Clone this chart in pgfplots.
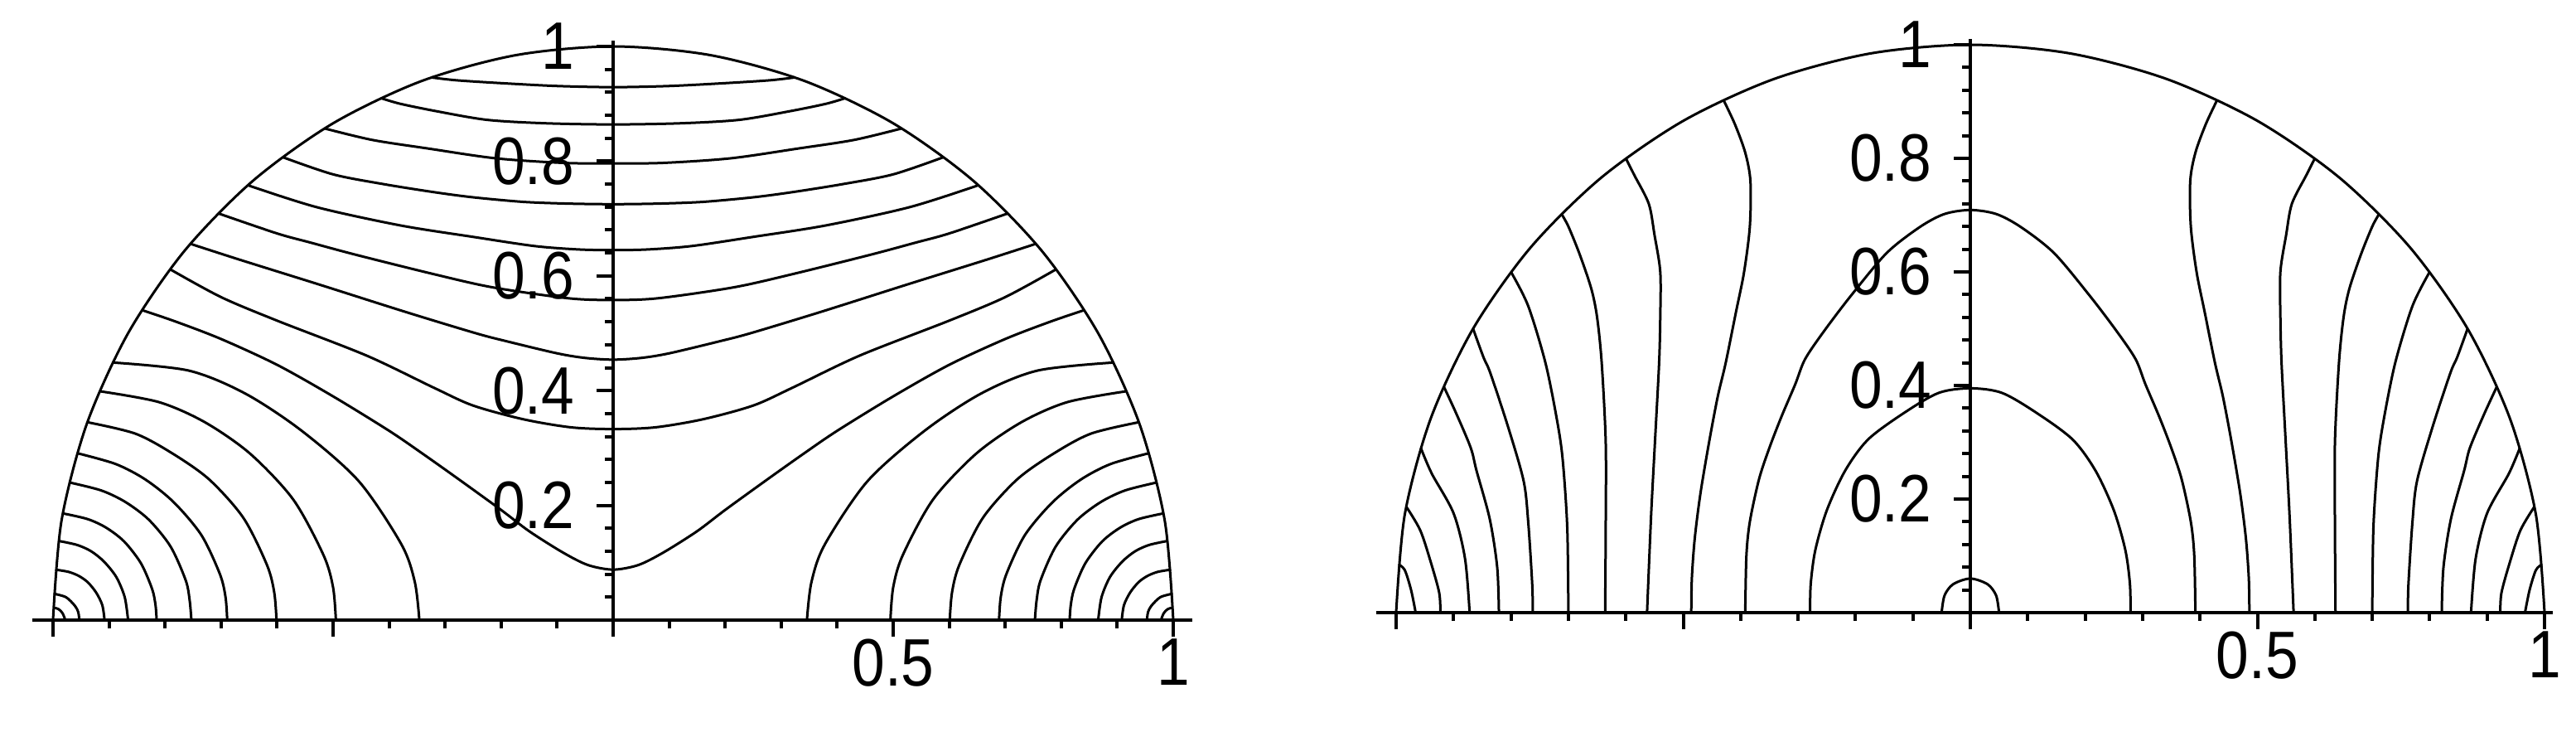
\documentclass[border=0pt]{standalone}
\usepackage{pgfplots}
\pgfplotsset{compat=1.18}
\usepackage{fontspec}
\newfontfamily\labelfont[FakeStretch=0.88]{Liberation Sans}
\pgfplotsset{
  base/.style={
    ymin=0, ymax=1.01,
    axis lines=middle,
    axis line style={line width=1.1pt},
    every inner x axis line/.append style={-},
    every inner y axis line/.append style={-},
    tick align=outside,
    xtick={-1,-0.5,0,0.5,1}, xticklabels={,,,0.5,1},
    minor x tick num=4,
    ytick={0,0.2,0.4,0.6,0.8,1}, yticklabels={,0.2,0.4,0.6,0.8,1},
    minor y tick num=4,
    major tick length=5pt, minor tick length=2.5pt,
    tick style={black, line width=1pt},
    hide obscured x ticks=false, hide obscured y ticks=false,
    ticklabel style={font=\labelfont\fontsize{20.25}{20.25}\selectfont, inner sep=0pt},
    xticklabel style={anchor=north, yshift=-0.5pt},
    yticklabel style={anchor=east, xshift=-6.5pt},
    clip=false,
  },
  cl/.style={black, line width=0.75pt, smooth, tension=0.5, mark=none},
}
\begin{document}
\begin{tikzpicture}
% ---------------- left panel ----------------
\begin{axis}[base, x=169pt, y=173pt, xmin=-1.037, xmax=1.034, at={(185pt,33.5pt)}, anchor=origin]
\addplot[cl] coordinates {(-1,0) (-0.9848,0.1736) (-0.9397,0.342) (-0.866,0.5) (-0.766,0.6428) (-0.6428,0.766) (-0.5,0.866) (-0.342,0.9397) (-0.1736,0.9848) (0,1) (0.1736,0.9848) (0.342,0.9397) (0.5,0.866) (0.6428,0.766) (0.766,0.6428) (0.866,0.5) (0.9397,0.342) (0.9848,0.1736) (1,0)};
% upper lines
\addplot[cl] coordinates {(-0.325,0.946) (-0.28,0.941) (-0.2,0.936) (-0.1,0.931) (0,0.929) (0.1,0.931) (0.2,0.936) (0.28,0.941) (0.325,0.946)};
\addplot[cl] coordinates {(-0.415,0.91) (-0.38,0.9) (-0.315,0.887) (-0.225,0.872) (-0.12,0.866) (0,0.864) (0.12,0.866) (0.225,0.872) (0.315,0.887) (0.38,0.9) (0.415,0.91)};
\addplot[cl] coordinates {(-0.515,0.857) (-0.43,0.837) (-0.33,0.822) (-0.21,0.805) (-0.09,0.797) (0,0.796) (0.09,0.797) (0.21,0.805) (0.33,0.822) (0.43,0.837) (0.515,0.857)};
\addplot[cl] coordinates {(-0.59,0.807) (-0.5,0.777) (-0.41,0.76) (-0.32,0.746) (-0.25,0.737) (-0.16,0.729) (-0.08,0.726) (0,0.725) (0.08,0.726) (0.16,0.729) (0.25,0.737) (0.32,0.746) (0.41,0.76) (0.5,0.777) (0.59,0.807)};
\addplot[cl] coordinates {(-0.652,0.758) (-0.53,0.72) (-0.38,0.688) (-0.25,0.668) (-0.14,0.652) (-0.06,0.646) (0,0.645) (0.06,0.646) (0.14,0.652) (0.25,0.668) (0.38,0.688) (0.53,0.72) (0.652,0.758)};
\addplot[cl] coordinates {(-0.705,0.709) (-0.6,0.674) (-0.54,0.658) (-0.46,0.637) (-0.32,0.603) (-0.215,0.58) (-0.08,0.561) (0,0.558) (0.08,0.561) (0.215,0.58) (0.32,0.603) (0.46,0.637) (0.54,0.658) (0.6,0.674) (0.705,0.709)};
\addplot[cl] coordinates {(-0.755,0.656) (-0.666,0.628) (-0.525,0.585) (-0.37,0.537) (-0.245,0.5) (-0.19,0.486) (-0.1,0.465) (-0.05,0.457) (0,0.454) (0.05,0.457) (0.1,0.465) (0.19,0.486) (0.245,0.5) (0.37,0.537) (0.525,0.585) (0.666,0.628) (0.755,0.656)};
\addplot[cl] coordinates {(-0.79,0.611) (-0.7,0.563) (-0.6,0.522) (-0.44,0.461) (-0.32,0.405) (-0.25,0.374) (-0.16,0.35) (-0.075,0.336) (0,0.333) (0.075,0.336) (0.16,0.35) (0.25,0.374) (0.32,0.405) (0.44,0.461) (0.6,0.522) (0.7,0.563) (0.79,0.611)};
\addplot[cl] coordinates {(-0.84,0.54) (-0.78,0.52) (-0.7,0.49) (-0.6,0.445) (-0.5,0.39) (-0.4,0.33) (-0.34,0.29) (-0.275,0.245) (-0.2,0.192) (-0.15,0.155) (-0.09,0.118) (-0.045,0.096) (0,0.088) (0.045,0.096) (0.09,0.118) (0.15,0.155) (0.2,0.192) (0.275,0.245) (0.34,0.29) (0.4,0.33) (0.5,0.39) (0.6,0.445) (0.7,0.49) (0.78,0.52) (0.84,0.54)};
% arcs, right side
\addplot[cl] coordinates {(0.346,0) (0.354,0.066) (0.378,0.132) (0.454,0.242) (0.556,0.33) (0.657,0.395) (0.758,0.435) (0.894,0.449)};
\addplot[cl] coordinates {(0.495,0) (0.5,0.057) (0.517,0.113) (0.571,0.21) (0.648,0.29) (0.729,0.345) (0.811,0.38) (0.917,0.399)};
\addplot[cl] coordinates {(0.601,0) (0.605,0.048) (0.618,0.096) (0.66,0.178) (0.721,0.245) (0.786,0.29) (0.853,0.325) (0.939,0.345)};
\addplot[cl] coordinates {(0.689,0) (0.692,0.04) (0.702,0.08) (0.735,0.148) (0.784,0.205) (0.835,0.245) (0.888,0.272) (0.957,0.291)};
\addplot[cl] coordinates {(0.753,0) (0.756,0.034) (0.763,0.069) (0.79,0.128) (0.829,0.175) (0.871,0.206) (0.914,0.226) (0.971,0.24)};
\addplot[cl] coordinates {(0.815,0) (0.817,0.026) (0.823,0.054) (0.843,0.099) (0.873,0.137) (0.905,0.161) (0.938,0.176) (0.9825,0.186)};
\addplot[cl] coordinates {(0.866,0) (0.872,0.04) (0.887,0.075) (0.909,0.102) (0.932,0.12) (0.957,0.131) (0.99,0.138)};
\addplot[cl] coordinates {(0.908,0) (0.912,0.026) (0.923,0.048) (0.938,0.066) (0.954,0.077) (0.972,0.084) (0.996,0.088)};
\addplot[cl] coordinates {(0.953,0) (0.955,0.014) (0.961,0.025) (0.977,0.04) (0.999,0.046)};
\addplot[cl] coordinates {(0.978,0) (0.983,0.012) (0.99,0.019) (0.9998,0.022)};
% arcs, left side
\addplot[cl] coordinates {(-0.346,0) (-0.354,0.066) (-0.378,0.132) (-0.454,0.242) (-0.556,0.33) (-0.657,0.395) (-0.758,0.435) (-0.894,0.449)};
\addplot[cl] coordinates {(-0.495,0) (-0.5,0.057) (-0.517,0.113) (-0.571,0.21) (-0.648,0.29) (-0.729,0.345) (-0.811,0.38) (-0.917,0.399)};
\addplot[cl] coordinates {(-0.601,0) (-0.605,0.048) (-0.618,0.096) (-0.66,0.178) (-0.721,0.245) (-0.786,0.29) (-0.853,0.325) (-0.939,0.345)};
\addplot[cl] coordinates {(-0.689,0) (-0.692,0.04) (-0.702,0.08) (-0.735,0.148) (-0.784,0.205) (-0.835,0.245) (-0.888,0.272) (-0.957,0.291)};
\addplot[cl] coordinates {(-0.753,0) (-0.756,0.034) (-0.763,0.069) (-0.79,0.128) (-0.829,0.175) (-0.871,0.206) (-0.914,0.226) (-0.971,0.24)};
\addplot[cl] coordinates {(-0.815,0) (-0.817,0.026) (-0.823,0.054) (-0.843,0.099) (-0.873,0.137) (-0.905,0.161) (-0.938,0.176) (-0.9825,0.186)};
\addplot[cl] coordinates {(-0.866,0) (-0.872,0.04) (-0.887,0.075) (-0.909,0.102) (-0.932,0.12) (-0.957,0.131) (-0.99,0.138)};
\addplot[cl] coordinates {(-0.908,0) (-0.912,0.026) (-0.923,0.048) (-0.938,0.066) (-0.954,0.077) (-0.972,0.084) (-0.996,0.088)};
\addplot[cl] coordinates {(-0.953,0) (-0.955,0.014) (-0.961,0.025) (-0.977,0.04) (-0.999,0.046)};
\addplot[cl] coordinates {(-0.978,0) (-0.983,0.012) (-0.99,0.019) (-0.9998,0.022)};
\end{axis}
% ---------------- right panel ----------------
\begin{axis}[base, x=173.25pt, y=171.25pt, xmin=-1.035, xmax=1.015, at={(594.5pt,35.75pt)}, anchor=origin]
\addplot[cl] coordinates {(-1,0) (-0.9848,0.1736) (-0.9397,0.342) (-0.866,0.5) (-0.766,0.6428) (-0.6428,0.766) (-0.5,0.866) (-0.342,0.9397) (-0.1736,0.9848) (0,1) (0.1736,0.9848) (0.342,0.9397) (0.5,0.866) (0.6428,0.766) (0.766,0.6428) (0.866,0.5) (0.9397,0.342) (0.9848,0.1736) (1,0)};
\addplot[cl] coordinates {(-0.05,0) (-0.045,0.03) (-0.03,0.05) (0,0.06) (0.03,0.05) (0.045,0.03) (0.05,0)};
\addplot[cl] coordinates {(-0.279,0) (-0.278,0.05) (-0.27,0.11) (-0.25,0.18) (-0.218,0.25) (-0.178,0.305) (-0.115,0.352) (-0.055,0.387) (0,0.395) (0.055,0.387) (0.115,0.352) (0.178,0.305) (0.218,0.25) (0.25,0.18) (0.27,0.11) (0.278,0.05) (0.279,0)};
\addplot[cl] coordinates {(-0.392,0) (-0.39,0.1) (-0.384,0.16) (-0.368,0.235) (-0.35,0.29) (-0.329,0.345) (-0.305,0.402) (-0.288,0.446) (-0.256,0.494) (-0.208,0.558) (-0.146,0.633) (-0.088,0.679) (-0.045,0.702) (0,0.709) (0.045,0.702) (0.088,0.679) (0.146,0.633) (0.208,0.558) (0.256,0.494) (0.288,0.446) (0.305,0.402) (0.329,0.345) (0.35,0.29) (0.368,0.235) (0.384,0.16) (0.39,0.1) (0.392,0)};
% right side lines
\addplot[cl] coordinates {(0.43,0.903) (0.41,0.86) (0.392,0.81) (0.383,0.76) (0.384,0.68) (0.394,0.6) (0.408,0.53) (0.426,0.44) (0.44,0.38) (0.455,0.3) (0.47,0.21) (0.48,0.13) (0.485,0.06) (0.486,0)};
\addplot[cl] coordinates {(0.6,0.8) (0.585,0.77) (0.56,0.72) (0.55,0.665) (0.54,0.6) (0.54,0.52) (0.542,0.44) (0.549,0.305) (0.556,0.17) (0.563,0)};
\addplot[cl] coordinates {(0.712,0.702) (0.7,0.68) (0.68,0.63) (0.66,0.57) (0.65,0.52) (0.642,0.44) (0.635,0.3) (0.635,0.15) (0.636,0)};
\addplot[cl] coordinates {(0.8,0.6) (0.77,0.54) (0.74,0.44) (0.72,0.34) (0.71,0.27) (0.702,0.15) (0.7,0)};
\addplot[cl] coordinates {(0.866,0.5) (0.848,0.45) (0.836,0.422) (0.805,0.327) (0.778,0.232) (0.77,0.16) (0.763,0.05) (0.762,0)};
\addplot[cl] coordinates {(0.917,0.398) (0.895,0.35) (0.87,0.29) (0.86,0.25) (0.837,0.165) (0.824,0.08) (0.821,0)};
\addplot[cl] coordinates {(0.957,0.29) (0.938,0.245) (0.9,0.175) (0.88,0.095) (0.872,0)};
\addplot[cl] coordinates {(0.982,0.186) (0.958,0.145) (0.94,0.09) (0.925,0.035) (0.923,0)};
\addplot[cl] coordinates {(0.996,0.085) (0.985,0.075) (0.974,0.04) (0.966,0)};
% left side lines
\addplot[cl] coordinates {(-0.43,0.903) (-0.41,0.86) (-0.392,0.81) (-0.383,0.76) (-0.384,0.68) (-0.394,0.6) (-0.408,0.53) (-0.426,0.44) (-0.44,0.38) (-0.455,0.3) (-0.47,0.21) (-0.48,0.13) (-0.485,0.06) (-0.486,0)};
\addplot[cl] coordinates {(-0.6,0.8) (-0.585,0.77) (-0.56,0.72) (-0.55,0.665) (-0.54,0.6) (-0.54,0.52) (-0.542,0.44) (-0.549,0.305) (-0.556,0.17) (-0.563,0)};
\addplot[cl] coordinates {(-0.712,0.702) (-0.7,0.68) (-0.68,0.63) (-0.66,0.57) (-0.65,0.52) (-0.642,0.44) (-0.635,0.3) (-0.635,0.15) (-0.636,0)};
\addplot[cl] coordinates {(-0.8,0.6) (-0.77,0.54) (-0.74,0.44) (-0.72,0.34) (-0.71,0.27) (-0.702,0.15) (-0.7,0)};
\addplot[cl] coordinates {(-0.866,0.5) (-0.848,0.45) (-0.836,0.422) (-0.805,0.327) (-0.778,0.232) (-0.77,0.16) (-0.763,0.05) (-0.762,0)};
\addplot[cl] coordinates {(-0.917,0.398) (-0.895,0.35) (-0.87,0.29) (-0.86,0.25) (-0.837,0.165) (-0.824,0.08) (-0.821,0)};
\addplot[cl] coordinates {(-0.957,0.29) (-0.938,0.245) (-0.9,0.175) (-0.88,0.095) (-0.872,0)};
\addplot[cl] coordinates {(-0.982,0.186) (-0.958,0.145) (-0.94,0.09) (-0.925,0.035) (-0.923,0)};
\addplot[cl] coordinates {(-0.996,0.085) (-0.985,0.075) (-0.974,0.04) (-0.966,0)};
\end{axis}
\pgfresetboundingbox
\useasboundingbox (0,0) rectangle (777.25pt,220.5pt);
\end{tikzpicture}
\end{document}
